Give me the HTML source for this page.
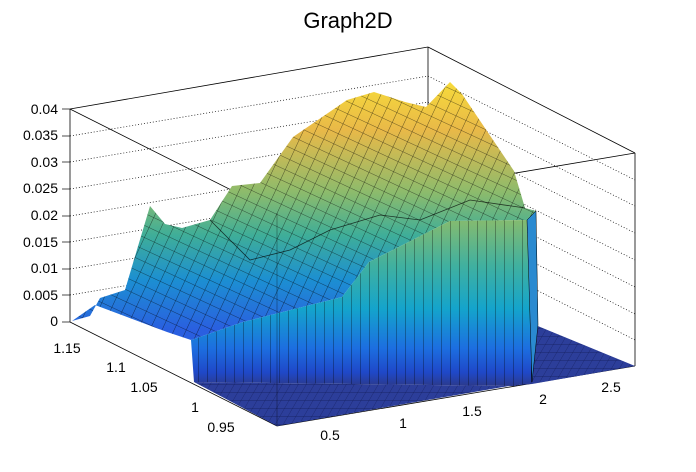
<!DOCTYPE html>
<html><head><meta charset="utf-8"><style>
html,body{margin:0;padding:0;background:#fff;}
svg{display:block;font-family:"Liberation Sans",Arial,sans-serif;}
</style></head><body>
<svg width="696" height="472" viewBox="0 0 696 472" xmlns="http://www.w3.org/2000/svg">
<defs>
<linearGradient id="top" x1="0" y1="80" x2="0" y2="330" gradientUnits="userSpaceOnUse">
<stop offset="0" stop-color="#f7dc3a"/>
<stop offset="0.2" stop-color="#e9b948"/>
<stop offset="0.45" stop-color="#8cbb6c"/>
<stop offset="0.62" stop-color="#3fae98"/>
<stop offset="0.8" stop-color="#1c8fd2"/>
<stop offset="1" stop-color="#2a5fe0"/>
</linearGradient>
<linearGradient id="cur" x1="0" y1="215" x2="0" y2="386" gradientUnits="userSpaceOnUse">
<stop offset="0" stop-color="#8cbc6a"/>
<stop offset="0.3" stop-color="#3fb0a0"/>
<stop offset="0.55" stop-color="#14a4cc"/>
<stop offset="0.78" stop-color="#1c6ee0"/>
<stop offset="0.92" stop-color="#1f48c8"/>
<stop offset="1" stop-color="#2b3a8c"/>
</linearGradient>
<pattern id="mesh" width="11" height="11" patternUnits="userSpaceOnUse" patternTransform="rotate(25)">
<path d="M0 0 L0 11 M0 0 L11 0" stroke="#000" stroke-width="0.8" fill="none"/>
</pattern>
<pattern id="vl" width="9" height="10" patternUnits="userSpaceOnUse">
<path d="M0 0 L0 10" stroke="#000" stroke-width="0.8"/>
</pattern>
<pattern id="fl" width="8" height="8" patternUnits="userSpaceOnUse" patternTransform="skewX(-30)">
<rect width="8" height="8" fill="#2c3e9a"/>
<path d="M0 0 L0 8 M0 0 L8 0" stroke="#111a55" stroke-width="0.6"/>
</pattern>
</defs>
<text x="348" y="28" font-size="22" text-anchor="middle">Graph2D</text>
<g stroke="#000" stroke-width="0.8" fill="none">
<line x1="70" y1="109" x2="428" y2="47"/>
<line x1="428" y1="47" x2="635" y2="153"/>
<line x1="428" y1="47" x2="428" y2="262"/>
<line x1="70" y1="109" x2="70" y2="322"/>
<line x1="635" y1="153" x2="635" y2="366"/>
<line x1="70" y1="109" x2="277" y2="213"/>
<line x1="277" y1="213" x2="635" y2="153"/>
<line x1="277" y1="213" x2="277" y2="426"/>
<line x1="70" y1="322" x2="277" y2="426"/>
<line x1="277" y1="426" x2="635" y2="366"/>
</g>
<g stroke="#000" stroke-width="0.7" stroke-dasharray="1,2" fill="none">
<polyline points="70,295 428,235 635,340"/>
<polyline points="70,269 428,209 635,314"/>
<polyline points="70,242 428,182 635,287"/>
<polyline points="70,216 428,156 635,260"/>
<polyline points="70,189 428,129 635,233"/>
<polyline points="70,162 428,102 635,206"/>
<polyline points="70,136 428,76 635,180"/>
</g>
<g stroke="#000" stroke-width="0.7">
<line x1="62" y1="322" x2="70" y2="322"/><line x1="62" y1="295" x2="70" y2="295"/>
<line x1="62" y1="269" x2="70" y2="269"/><line x1="62" y1="242" x2="70" y2="242"/>
<line x1="62" y1="216" x2="70" y2="216"/><line x1="62" y1="189" x2="70" y2="189"/>
<line x1="62" y1="162" x2="70" y2="162"/><line x1="62" y1="136" x2="70" y2="136"/>
<line x1="62" y1="109" x2="70" y2="109"/>
</g>
<polygon points="194,382 514,386 532,382 277,426" fill="url(#fl)"/>
<polygon points="528,322 635,366 532,384 520,385" fill="url(#fl)"/>
<polygon points="72,321 90,316 100,298 125,290 150,206 165,224 182,228 210,220 232,186 260,183 293,137 347,100 374,92 405,102 426,107 450,82 462,94 489,134 514,171 525,208 536,211 538,325 527,220 450,221 369,262 342,297 243,322 191,340 167,332 95,305" fill="url(#top)"/>
<polygon points="72,321 90,316 100,298 125,290 150,206 165,224 182,228 210,220 232,186 260,183 293,137 347,100 374,92 405,102 426,107 450,82 462,94 489,134 514,171 525,208 536,211 538,325 527,220 450,221 369,262 342,297 243,322 191,340 167,332 95,305" fill="url(#mesh)" opacity="0.7"/>
<polyline points="210,220 250,260 290,250 330,230 380,215 420,220 470,200 525,208" fill="none" stroke="#000" stroke-width="0.8" opacity="0.7"/>
<polygon points="191,340 243,322 342,297 369,262 450,221 527,220 532,382 514,386 194,382" fill="url(#cur)"/>
<polygon points="191,340 243,322 342,297 369,262 450,221 527,220 532,382 514,386 194,382" fill="url(#vl)" opacity="0.75"/>
<polygon points="527,220 536,211 538,325 532,382" fill="#2a8ad0" stroke="#000" stroke-width="0.5"/>
<line x1="277" y1="213" x2="277" y2="426" stroke="#000" stroke-width="0.6" opacity="0.5"/>
<g font-size="14" text-anchor="end">
<text x="58" y="326">0</text>
<text x="58" y="300">0.005</text>
<text x="58" y="273">0.01</text>
<text x="58" y="247">0.015</text>
<text x="58" y="220">0.02</text>
<text x="58" y="193">0.025</text>
<text x="58" y="167">0.03</text>
<text x="58" y="140">0.035</text>
<text x="58" y="114">0.04</text>
</g>
<g font-size="14" text-anchor="middle">
<text x="67" y="353">1.15</text>
<text x="116" y="372">1.1</text>
<text x="144" y="392">1.05</text>
<text x="195" y="412">1</text>
<text x="221" y="432">0.95</text>
<text x="330" y="440">0.5</text>
<text x="403" y="428">1</text>
<text x="472" y="416">1.5</text>
<text x="543" y="404">2</text>
<text x="611" y="392">2.5</text>
</g>
</svg>
</body></html>
